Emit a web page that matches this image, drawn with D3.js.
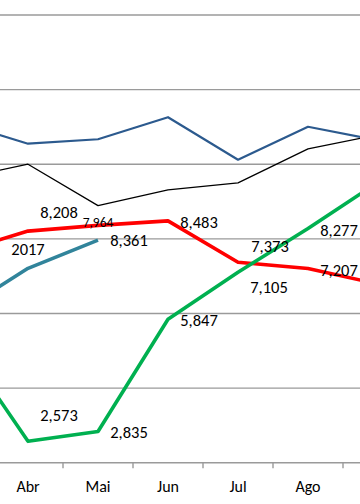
<!DOCTYPE html>
<html>
<head>
<meta charset="utf-8">
<script src="https://cdn.jsdelivr.net/npm/d3@7"></script>
<style>
  html, body { margin: 0; padding: 0; background: #fff; }
  svg { display: block; }
  text { font-family: Carlito, Calibri, Lato, "Open Sans", sans-serif; fill: #000; }
</style>
</head>
<body>
<svg id="chart" width="360" height="504"></svg>
<script>
// ---- data ----
const months = ["Jan","Fev","Mar","Abr","Mai","Jun","Jul","Ago","Set","Out","Nov","Dez"];
const yTicks = [2000, 4000, 6000, 8000, 10000, 12000, 14000];

const seriesBlue  = [null, null, 11130, 10550, 10670, 11260, 10120, 11005, 10640, null, null, null];
const seriesBlack = [null, null,  9600, 10000,  8890,  9310,  9500, 10410, 10790, null, null, null];
const seriesRed   = [null, null,  7640,  8208,  8361,  8483,  7373,  7207,  6790, null, null, null];
const seriesGreen = [null, null,  5315,  2573,  2835,  5847,  7105,  8277,  9520, null, null, null];
const series2017  = [null, null,  6025,  7210,  7964,  null,  null,  null,  null, null, null, null];

// labels: [month, text]
const labelsRed   = [["Abr","8,208"],["Mai","8,361"],["Jun","8,483"],["Jul","7,373"],["Ago","7,207"]];
const labelsGreen = [["Abr","2,573"],["Mai","2,835"],["Jun","5,847"],["Jul","7,105"],["Ago","8,277"]];
const labels2017  = [["Abr","2017"],["Mai","7,964"]];

// ---- layout ----
const W = 360;
const svg = d3.select("#chart");
const step = 70;
const firstCenter = 28 - 3 * step;          // Abr sits at x=28 in this excerpt
const x = d3.scalePoint().domain(months).range([firstCenter, firstCenter + step * (months.length - 1)]);
const y = d3.scaleLinear().domain([2000, 14000]).range([462.7, 15]);

// gridlines
svg.append("g").selectAll("line").data(yTicks).join("line")
  .attr("x1", 0).attr("x2", W)
  .attr("y1", d => y(d)).attr("y2", d => y(d))
  .attr("stroke", "#9a9a9a").attr("stroke-width", 1.4);

// x axis with ticks between categories
const tickPos = months.slice(1).map(m => x(m) - step / 2).filter(p => p >= 0 && p <= W);
svg.append("g").selectAll("line").data(tickPos).join("line")
  .attr("x1", d => d).attr("x2", d => d)
  .attr("y1", y(2000)).attr("y2", y(2000) + 5.5)
  .attr("stroke", "#9a9a9a").attr("stroke-width", 1.4);

// only the month names that fall inside this excerpt of the chart
const visibleMonths = months.filter(m => x(m) > 0 && x(m) < W);
svg.append("g").selectAll("text").data(visibleMonths).join("text")
  .attr("x", d => x(d)).attr("y", 486).attr("dy", "0.35em")
  .attr("text-anchor", "middle").attr("font-size", 16)
  .text(d => d);

// lines
const line = d3.line()
  .defined(d => d.v != null)
  .x(d => x(d.m)).y(d => y(d.v));
function pts(arr) { return months.map((m, i) => ({ m, v: arr[i] })); }

const seriesDefs = [
  { data: seriesBlack, color: "#000000", width: 1.3 },
  { data: seriesBlue,  color: "#2c5a8e", width: 2.2 },
  { data: seriesRed,   color: "#ff0000", width: 3.6 },
  { data: seriesGreen, color: "#00b050", width: 3.6 },
  { data: series2017,  color: "#31849b", width: 3.6 }
];
svg.append("g").selectAll("path").data(seriesDefs).join("path")
  .attr("d", d => line(pts(d.data)))
  .attr("fill", "none")
  .attr("stroke", d => d.color)
  .attr("stroke-width", d => d.width)
  .attr("stroke-linejoin", "round");

// data labels (offsets relative to the point)
const offsets = {
  red:   { Abr: [31, -19], Mai: [31, 15], Jun: [31, 1], Jul: [32, -16.5], Ago: [31, 1.5] },
  green: { Abr: [31, -26], Mai: [31, 1], Jun: [31, 1], Jul: [31, 15], Ago: [31, 1.5] },
  s2017: { Abr: [0, -19], Mai: [0, -18] }
};
function addLabels(list, arr, key, size) {
  svg.append("g").selectAll("text").data(list).join("text")
    .attr("x", d => x(d[0]) + offsets[key][d[0]][0])
    .attr("y", d => y(arr[months.indexOf(d[0])]) + offsets[key][d[0]][1])
    .attr("dy", "0.35em")
    .attr("text-anchor", "middle")
    .attr("font-size", size)
    .text(d => d[1]);
}
addLabels(labelsRed, seriesRed, "red", 16.5);
addLabels(labelsGreen, seriesGreen, "green", 16.5);
addLabels(labels2017, series2017, "s2017", d => d[0] === "Mai" ? 13.5 : 16.5);
</script>
</body>
</html>
